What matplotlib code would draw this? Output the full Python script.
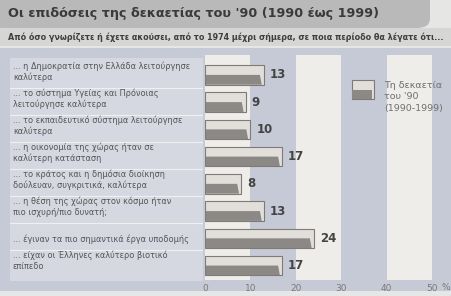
import matplotlib
matplotlib.use("Agg")
import matplotlib.pyplot as plt
from matplotlib.patches import Rectangle, FancyBboxPatch, Polygon

W, H = 451, 296

title = "Οι επιδόσεις της δεκαετίας του '90 (1990 έως 1999)"
subtitle = ("Από όσο γνωρίζετε ή έχετε ακούσει, από το 1974 μέχρι σήμερα, "
            "σε ποια περίοδο θα λέγατε ότι...")
categories = [
    "... η Δημοκρατία στην Ελλάδα λειτούργησε\nκαλύτερα",
    "... το σύστημα Υγείας και Πρόνοιας\nλειτούργησε καλύτερα",
    "... το εκπαιδευτικό σύστημα λειτούργησε\nκαλύτερα",
    "... η οικονομία της χώρας ήταν σε\nκαλύτερη κατάσταση",
    "... το κράτος και η δημόσια διοίκηση\nδούλευαν, συγκριτικά, καλύτερα",
    "... η θέση της χώρας στον κόσμο ήταν\nπιο ισχυρή/πιο δυνατή;",
    "... έγιναν τα πιο σημαντικά έργα υποδομής",
    "... είχαν οι Έλληνες καλύτερο βιοτικό\nεπίπεδο",
]
values = [13, 9, 10, 17, 8, 13, 24, 17]
legend_label = "Τη δεκαετία\nτου '90\n(1990-1999)"
xticks = [0, 10, 20, 30, 40, 50]


def fx(px):
    return px / W


def fy(py):
    return 1 - py / H


fig = plt.figure(figsize=(W / 100, H / 100), dpi=100)
fig.patch.set_facecolor("#e6e6e4")

# header bands and plot background (behind the axes)
fig.patches.append(FancyBboxPatch((fx(-10), fy(28)), fx(440), fy(0) - fy(28) + 0.05,
                                  boxstyle="round,pad=0,rounding_size=0.03",
                                  transform=fig.transFigure, facecolor="#b9b9b9",
                                  edgecolor="none", zorder=-3))
fig.patches.append(Rectangle((0, fy(46)), 1, fy(28) - fy(46),
                             transform=fig.transFigure, facecolor="#d6d6d4",
                             edgecolor="none", zorder=-3))
fig.patches.append(Rectangle((0, fy(291)), 1, fy(48) - fy(291),
                             transform=fig.transFigure, facecolor="#c6cad6",
                             edgecolor="none", zorder=-3))

fig.text(fx(8), fy(14), title, fontsize=9.2, fontweight="bold", color="#3a3a3a",
         va="center", ha="left")
fig.text(fx(8), fy(37), subtitle, fontsize=5.75, fontweight="bold", color="#3f3f3f",
         va="center", ha="left")

ylim = (7.53, -0.73)

# label panel
lp = fig.add_axes([fx(10), fy(281), fx(193), fy(58) - fy(281)])
lp.set_facecolor("#d5d8e0")
lp.set_xlim(0, 1)
lp.set_ylim(*ylim)
lp.set_xticks([])
lp.set_yticks([])
for s in lp.spines.values():
    s.set_visible(False)
for i, lab in enumerate(categories):
    lp.text(0.015, i - 0.22 if "\n" in lab else i, lab, fontsize=5.9, color="#555555",
            va="center", ha="left", linespacing=1.3)
    if i < len(categories) - 1:
        lp.axhline(i + 0.38, color="#f0f0f0", lw=0.8)

ax = fig.add_axes([fx(205), fy(280), fx(432) - fx(205), fy(55) - fy(280)])
ax.set_facecolor("none")
ax.set_xlim(0, 50)
ax.set_ylim(*ylim)
for x0 in xticks[::2]:
    ax.axvspan(x0, x0 + 10, color="#eeede9", zorder=0, lw=0)

h = 0.72
for i, v in enumerate(values):
    top = i - h / 2
    mid = i
    bot = i + h / 2
    ax.add_patch(Rectangle((0, top), v, h, facecolor="#e2dfda", edgecolor="none",
                           zorder=2))
    ax.add_patch(Polygon([(0, mid), (v - 0.9, mid), (v - 0.5, bot), (0, bot)],
                         closed=True, facecolor="#8c8886", edgecolor="none", zorder=3))
    ax.add_patch(Rectangle((0, top), v, h, facecolor="none", edgecolor="#7d7a78",
                           lw=0.8, zorder=4))
    ax.text(v + 1.3, i, str(v), fontsize=8.5, fontweight="bold", color="#444444",
            va="center", ha="left", zorder=5)

ax.axvline(-0.4, color="#555555", lw=1.0, zorder=5, ymin=0.0, ymax=0.99)
ax.set_yticks([])
ax.set_xticks(xticks)
ax.set_xticklabels([str(t) for t in xticks], fontsize=6.5, color="#7a7a7a")
ax.tick_params(axis="x", length=0, pad=3)
for s in ax.spines.values():
    s.set_visible(False)
fig.text(fx(441), fy(287), "%", fontsize=6.5, color="#7a7a7a", va="center", ha="left")

# legend
fig.patches.append(Rectangle((fx(352), fy(99)), fx(22), fy(80) - fy(99),
                             transform=fig.transFigure, facecolor="#e2dfda",
                             edgecolor="#7d7a78", lw=0.8, zorder=3))
fig.patches.append(Rectangle((fx(352), fy(99)), fx(20), (fy(80) - fy(99)) / 2,
                             transform=fig.transFigure, facecolor="#8c8886",
                             edgecolor="none", zorder=4))
fig.text(fx(384), fy(97), legend_label, fontsize=6.8, color="#6f6f6f",
         va="center", ha="left", linespacing=1.3)

fig.savefig("out.png", dpi=100, facecolor=fig.get_facecolor())
